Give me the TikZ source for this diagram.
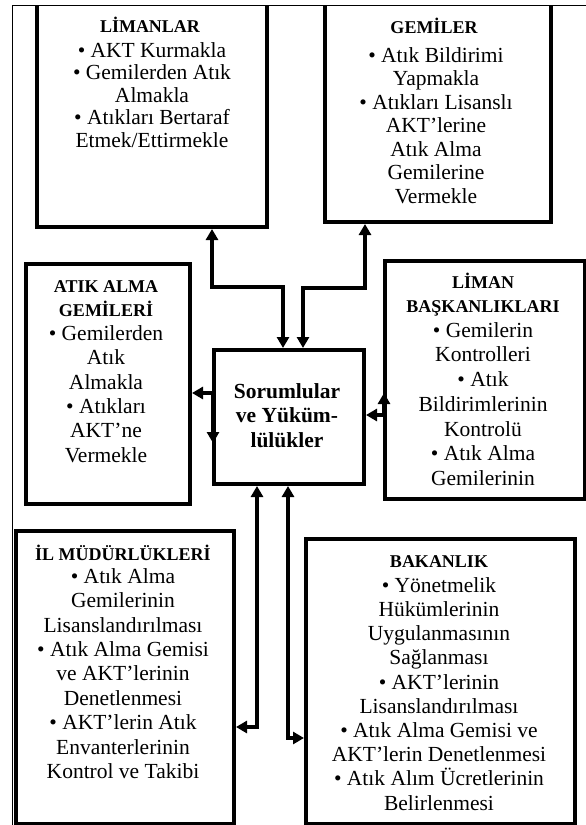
\documentclass[tikz,border=0pt]{standalone}
\usepackage{fontspec}
\setmainfont{Liberation Serif}
\usetikzlibrary{arrows.meta,calc}
\tikzset{
  box/.style={draw, line width=4pt, inner sep=0pt, anchor=north west},
  txt/.style={anchor=north, align=center, inner sep=0pt},
  headfont/.style={font=\bfseries\fontsize{18}{24}\selectfont},
  conn/.style={line width=3.5pt, line join=miter,
    {Triangle[length=11pt,width=12pt]}-{Triangle[length=11pt,width=12pt]}},
}
\newcommand{\fst}{\rule{0pt}{20pt}}
\newcommand{\hst}{\rule{0pt}{18pt}}
\begin{document}
\begin{tikzpicture}[x=1pt,y=-1pt]
\useasboundingbox (0,0) rectangle (586,825);
% thin frame
\draw[line width=1pt] (12,825) -- (12,5) -- (586,5);
% boxes
\begin{scope}
\clip (0,5) rectangle (586,825);
\node[box, minimum width=230pt, minimum height=231pt] (lim) at (35,-6) {};
\node[box, minimum width=226pt, minimum height=226pt] (gem) at (323,-6) {};
\end{scope}
\node[box, minimum width=164pt, minimum height=240pt] (atk) at (24,262) {};
\node[box, minimum width=150pt, minimum height=134pt] (cen) at (212,348) {};
\node[box, minimum width=200pt, minimum height=238pt] (lb) at (383,259) {};
\node[box, minimum width=218pt, minimum height=293pt] (il) at (14,529) {};
\node[box, minimum width=269pt, minimum height=285pt] (bak) at (304,537) {};
% headings
\node[txt, headfont] (limH) at (150,14) {\hst LİMANLAR};
\node[txt, headfont] (gemH) at (434,15) {\hst GEMİLER};
\node[txt, headfont] (atkH) at (106,274) {\hst ATIK ALMA\\GEMİLERİ};
\node[txt, headfont] (lbH) at (483,270) {\hst LİMAN\\BAŞKANLIKLARI};
\node[txt, headfont] (ilH) at (123,542) {\hst İL MÜDÜRLÜKLERİ};
\node[txt, headfont] (bakH) at (439,549) {\hst BAKANLIK};
% bodies
\node[txt, font=\fontsize{21.5}{22.5}\selectfont] (limB) at (152,37)
  {\fst• AKT Kurmakla\\• Gemilerden Atık\\Almakla\\• Atıkları Bertaraf\\Etmek/Ettirmekle};
\node[txt, font=\fontsize{21.5}{23.5}\selectfont] (gemB) at (436,42)
  {\fst• Atık Bildirimi\\Yapmakla\\• Atıkları Lisanslı\\AKT’lerine\\Atık Alma\\Gemilerine\\Vermekle};
\node[txt, font=\fontsize{21.5}{24.4}\selectfont] (atkB) at (106,320)
  {\fst• Gemilerden\\Atık\\Almakla\\• Atıkları\\AKT’ne\\Vermekle};
\node[txt, font=\bfseries\fontsize{21.5}{24.5}\selectfont] (cenT) at (287,378)
  {\fst Sorumlular\\ve Yüküm-\\lülükler};
\node[txt, font=\fontsize{21.5}{24.7}\selectfont] (lbB) at (483,317)
  {\fst• Gemilerin\\Kontrolleri\\• Atık\\Bildirimlerinin\\Kontrolü\\• Atık Alma\\Gemilerinin};
\node[txt, font=\fontsize{21.5}{24.4}\selectfont] (ilB) at (123,563)
  {\fst• Atık Alma\\Gemilerinin\\Lisanslandırılması\\• Atık Alma Gemisi\\ve AKT’lerinin\\Denetlenmesi\\• AKT’lerin Atık\\Envanterlerinin\\Kontrol ve Takibi};
\node[txt, font=\fontsize{21.5}{24.2}\selectfont] (bakB) at (439,572)
  {\fst• Yönetmelik\\Hükümlerinin\\Uygulanmasının\\Sağlanması\\• AKT’lerinin\\Lisanslandırılması\\• Atık Alma Gemisi ve\\AKT’lerin Denetlenmesi\\• Atık Alım Ücretlerinin\\Belirlenmesi};
% connector bend points
\coordinate (b1) at (212,287);
\coordinate (b2) at (283,287);
\coordinate (b3) at (303,288);
\coordinate (b4) at (365,288);
\coordinate (m1) at (213,393);
\coordinate (m2) at (213,443);
\coordinate (r1) at (384,415);
\coordinate (r2) at (384,393);
\coordinate (q1) at (257,727);
\coordinate (q2) at (288,738);
% connectors
\draw[conn] (lim.south -| b1) -- (b1) -- (b2) -- (cen.north -| b2);
\draw[conn] (gem.south -| b4) -- (b4) -- (b3) -- (cen.north -| b3);
\draw[conn] (m2) -- (m1) -- (m1 -| atk.east);
\draw[conn] (r2) -- (r1) -- (r1 -| cen.east);
\draw[conn] (cen.south -| q1) -- (q1) -- (q1 -| il.east);
\draw[conn] (cen.south -| q2) -- (q2) -- (q2 -| bak.west);
\end{tikzpicture}
\end{document}
